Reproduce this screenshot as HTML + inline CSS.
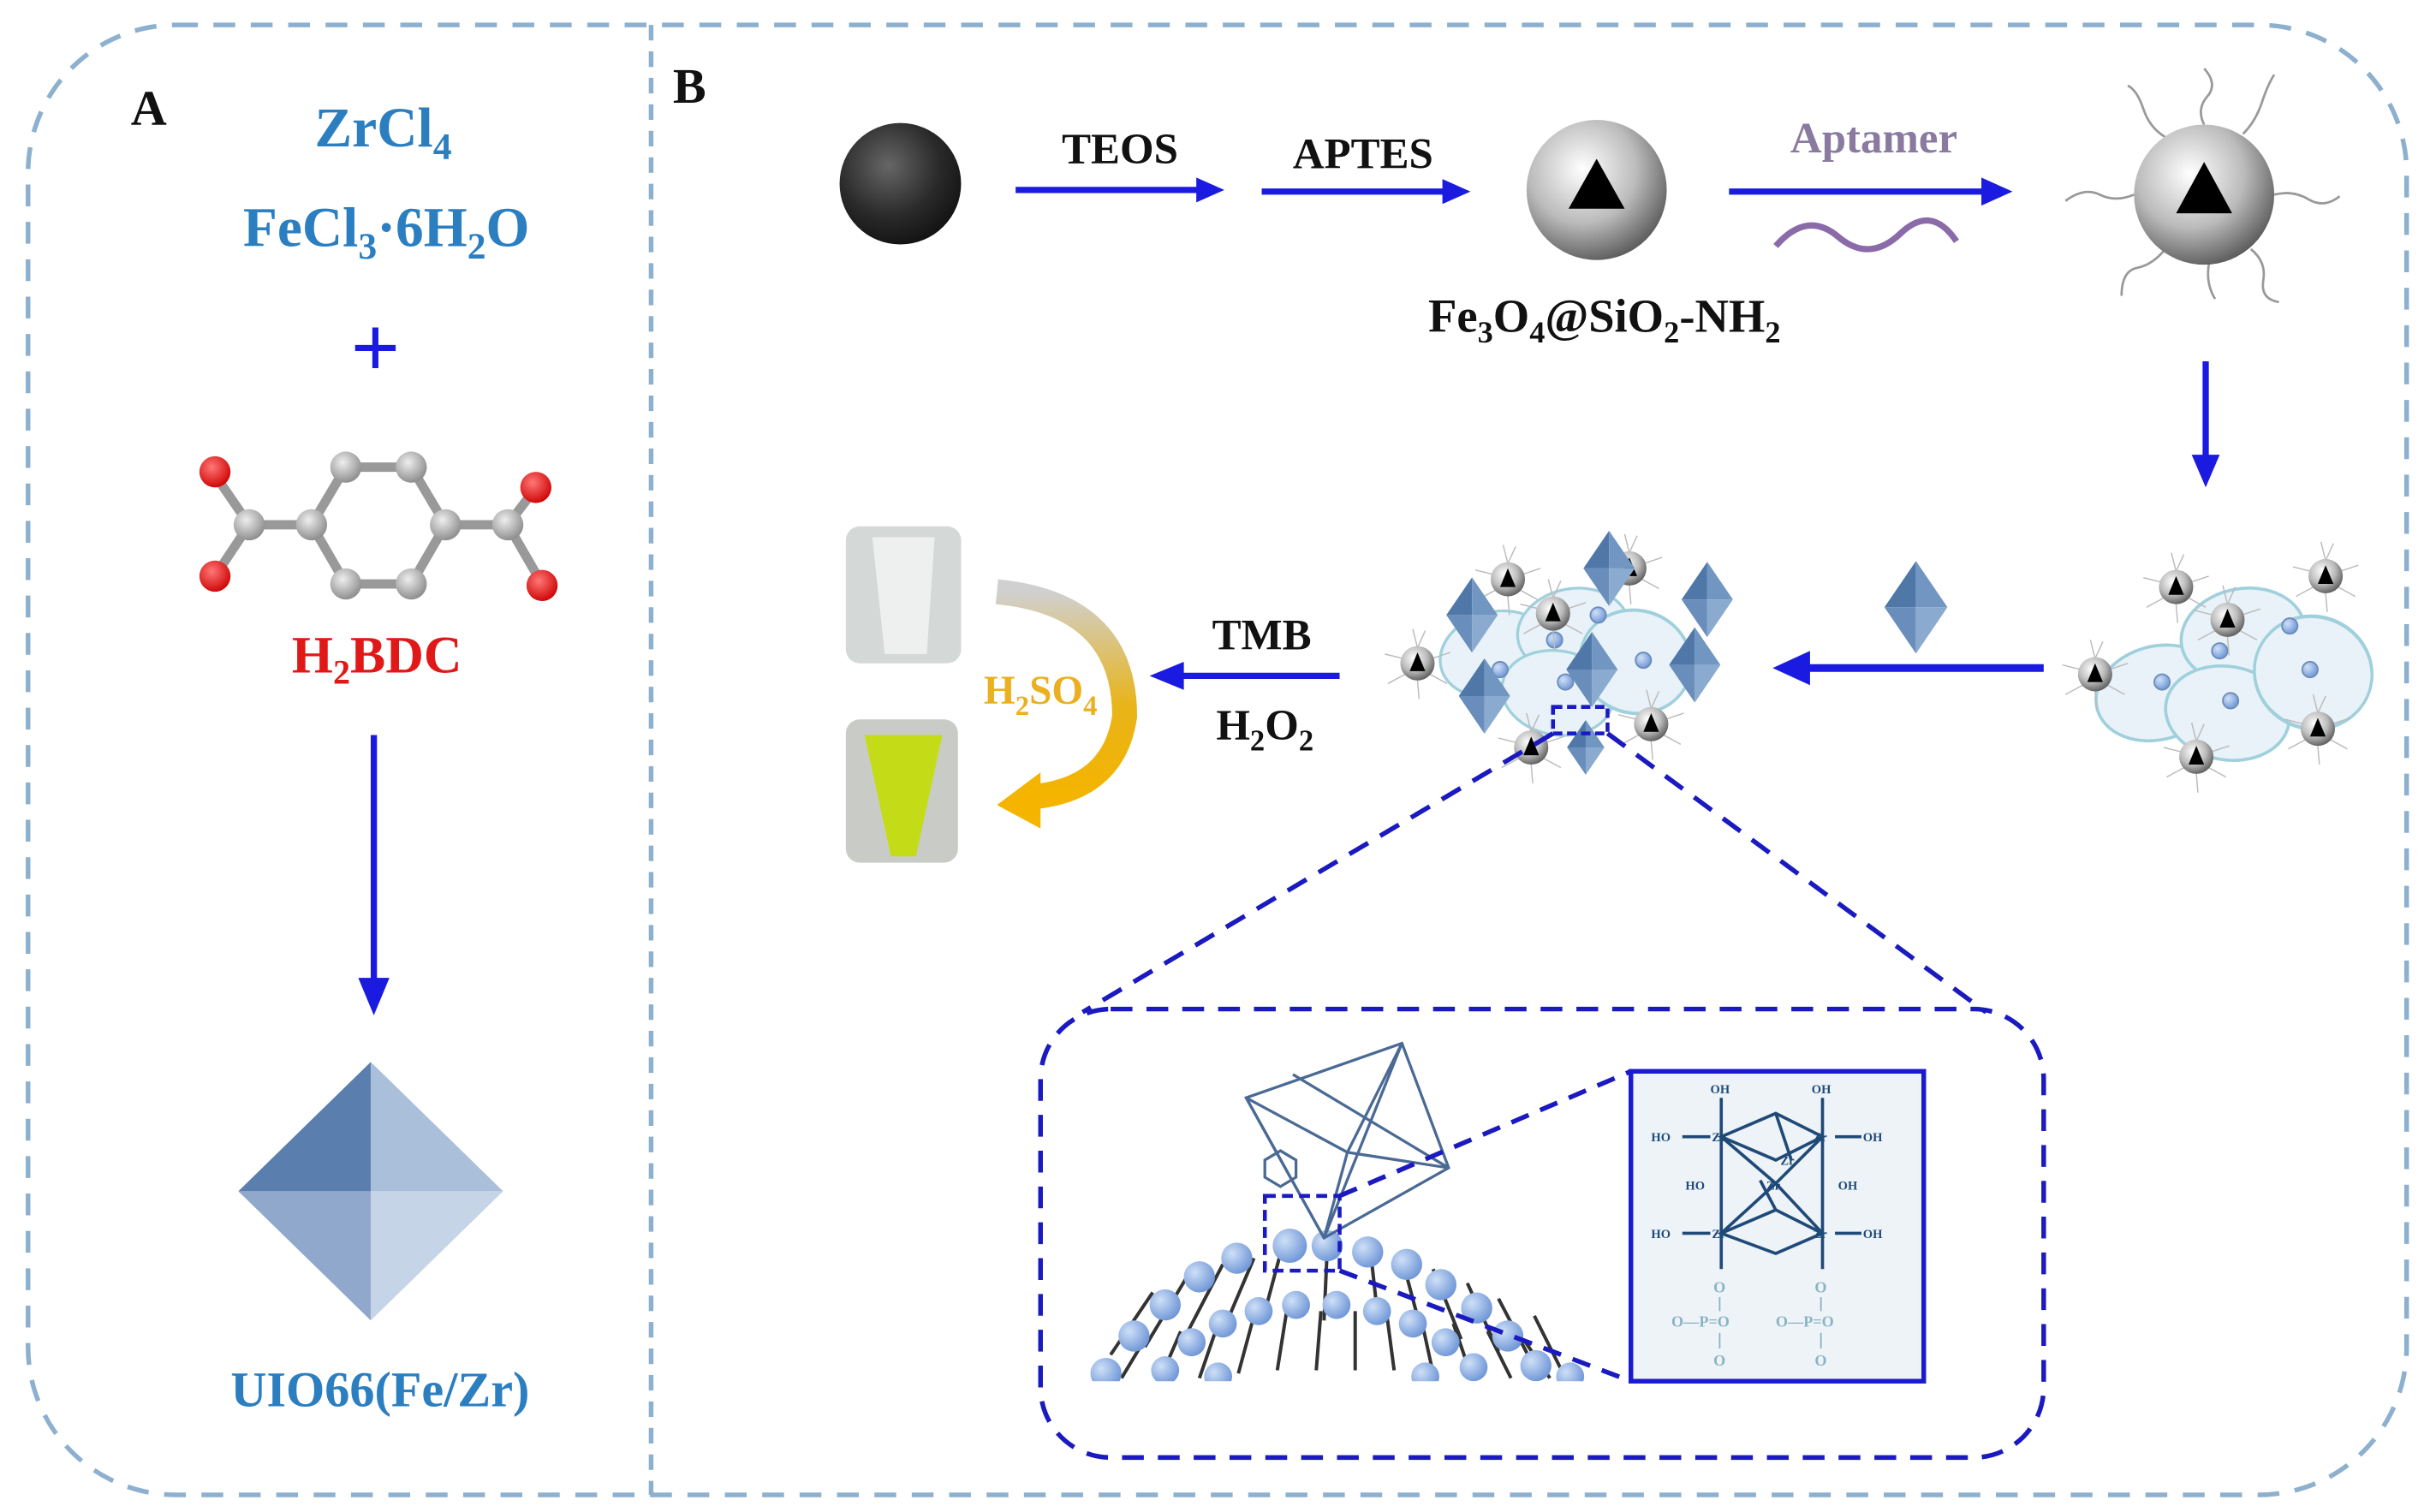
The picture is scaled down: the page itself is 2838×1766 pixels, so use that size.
<!DOCTYPE html>
<html><head><meta charset="utf-8"><style>
html,body{margin:0;padding:0;background:#fff;width:2838px;height:1766px;overflow:hidden}
svg{display:block}
text{font-family:"Liberation Serif",serif;font-weight:bold}
</style></head><body>
<svg width="2838" height="1766" viewBox="0 0 1560 971" preserveAspectRatio="none" xmlns="http://www.w3.org/2000/svg">
<defs>
<radialGradient id="bk" cx="0.4" cy="0.35" r="0.7"><stop offset="0" stop-color="#666"/><stop offset="0.6" stop-color="#2a2a2a"/><stop offset="1" stop-color="#111"/></radialGradient>
<radialGradient id="sv" cx="0.4" cy="0.35" r="0.7"><stop offset="0" stop-color="#fff"/><stop offset="0.55" stop-color="#bbb"/><stop offset="1" stop-color="#555"/></radialGradient>
<radialGradient id="bl" cx="0.35" cy="0.35" r="0.7"><stop offset="0" stop-color="#cfe0f7"/><stop offset="1" stop-color="#6d95d6"/></radialGradient>
<radialGradient id="gr" cx="0.4" cy="0.35" r="0.7"><stop offset="0" stop-color="#eee"/><stop offset="1" stop-color="#888"/></radialGradient>
<radialGradient id="rd" cx="0.4" cy="0.35" r="0.7"><stop offset="0" stop-color="#ff7777"/><stop offset="1" stop-color="#cc0000"/></radialGradient>
<linearGradient id="yarr" x1="0" y1="0" x2="0" y2="1"><stop offset="0" stop-color="#d0d0d0"/><stop offset="0.55" stop-color="#e8b41a"/><stop offset="1" stop-color="#f4b400"/></linearGradient>
<g id="bead"><g stroke="#bbb" stroke-width="0.8" fill="none"><path d="M0-10 l-3-12 M0-10 l5-11 M-9-3 l-12-3 M9-3 l12-4 M-8 7 l-11 6 M8 7 l11 6 M0 11 l1 12"/></g><circle r="11" fill="url(#sv)"/><path d="M0-7 L5 5 L-5 5Z" fill="#000"/></g>
<g id="oct"><path d="M0-22 L-15 0 L0 0Z" fill="#4f78a8"/><path d="M0-22 L15 0 L0 0Z" fill="#7296c2"/><path d="M0 22 L-15 0 L0 0Z" fill="#6a8ebb"/><path d="M0 22 L15 0 L0 0Z" fill="#8aaad0"/></g>
<g id="cell"><ellipse rx="40" ry="30" fill="#e8f2f8" stroke="#9fd0dc" stroke-width="2"/></g>
<g id="nuc"><circle r="5" fill="url(#bl)" stroke="#6b8bb8"/></g>
</defs>

<!-- outer frame -->
<rect x="18" y="16" width="1527" height="944" rx="95" fill="none" stroke="#8eb0cf" stroke-width="3" stroke-dasharray="14 10"/>
<line x1="418" y1="16" x2="418" y2="960" stroke="#8eb0cf" stroke-width="3" stroke-dasharray="10 7"/>

<text x="84" y="80" font-size="32" fill="#111">A</text>
<text x="432" y="66" font-size="32" fill="#111">B</text>

<!-- Panel A -->
<text x="246" y="94" font-size="36" fill="#2b7ec0" text-anchor="middle">ZrCl<tspan font-size="24" dy="8">4</tspan></text>
<text x="248" y="158" font-size="36" fill="#2b7ec0" text-anchor="middle">FeCl<tspan font-size="24" dy="8">3</tspan><tspan dy="-8">·6H</tspan><tspan font-size="24" dy="8">2</tspan><tspan dy="-8">O</tspan></text>
<text x="241" y="242" font-size="56" fill="#1a1ae0" text-anchor="middle">+</text>
<!-- molecule -->
<g stroke="#999" stroke-width="6" fill="none">
<path d="M200 337 L222 300 L264 300 L286 337 L264 375 L222 375 Z"/>
<path d="M200 337 L160 337 M286 337 L326 337 M160 337 L138 305 M160 337 L138 370 M326 337 L345 312 M326 337 L348 375"/>
</g>
<g fill="url(#gr)"><circle cx="200" cy="337" r="10"/><circle cx="222" cy="300" r="10"/><circle cx="264" cy="300" r="10"/><circle cx="286" cy="337" r="10"/><circle cx="264" cy="375" r="10"/><circle cx="222" cy="375" r="10"/><circle cx="160" cy="337" r="10"/><circle cx="326" cy="337" r="10"/></g>
<g fill="url(#rd)"><circle cx="138" cy="303" r="10"/><circle cx="138" cy="370" r="10"/><circle cx="344" cy="313" r="10"/><circle cx="348" cy="376" r="10"/></g>
<text x="242" y="432" font-size="34" fill="#e01818" text-anchor="middle">H<tspan font-size="22" dy="7">2</tspan><tspan dy="-7">BDC</tspan></text>
<line x1="240" y1="472" x2="240" y2="630" stroke="#1a1ae0" stroke-width="4"/>
<path d="M230 628 L250 628 L240 652Z" fill="#1a1ae0"/>
<!-- big octahedron -->
<path d="M238 682 L153 765 L238 765Z" fill="#5a7ead"/><path d="M238 682 L323 765 L238 765Z" fill="#aabfd9"/>
<path d="M238 848 L153 765 L238 765Z" fill="#8fa8cb"/><path d="M238 848 L323 765 L238 765Z" fill="#c6d4e8"/>
<text x="244" y="903" font-size="32" fill="#2b7ec0" text-anchor="middle">UIO66(Fe/Zr)</text>

<!-- Panel B top row -->
<circle cx="578" cy="118" r="39" fill="url(#bk)"/>
<line x1="652" y1="122" x2="770" y2="122" stroke="#1a1ae0" stroke-width="4"/><path d="M768 114 L786 122 L768 130Z" fill="#1a1ae0"/>
<line x1="810" y1="123" x2="928" y2="123" stroke="#1a1ae0" stroke-width="4"/><path d="M926 115 L944 123 L926 131Z" fill="#1a1ae0"/>
<text x="719" y="105" font-size="28" fill="#111" text-anchor="middle">TEOS</text>
<text x="875" y="108" font-size="28" fill="#111" text-anchor="middle">APTES</text>
<circle cx="1025" cy="122" r="45" fill="url(#sv)"/><path d="M1025 102 L1043 134 L1007 134Z" fill="#000"/>
<text x="1030" y="213" font-size="30" fill="#111" text-anchor="middle">Fe<tspan font-size="20" dy="7">3</tspan><tspan dy="-7">O</tspan><tspan font-size="20" dy="7">4</tspan><tspan dy="-7">@SiO</tspan><tspan font-size="20" dy="7">2</tspan><tspan dy="-7">-NH</tspan><tspan font-size="20" dy="7">2</tspan></text>
<line x1="1110" y1="123" x2="1274" y2="123" stroke="#1a1ae0" stroke-width="4"/><path d="M1272 114 L1292 123 L1272 132Z" fill="#1a1ae0"/>
<text x="1203" y="98" font-size="28" fill="#8a7aa0" text-anchor="middle">Aptamer</text>
<path d="M1140 158 Q1160 135 1180 152 T1220 150 T1256 155" stroke="#8a6aa8" stroke-width="4" fill="none"/>
<!-- aptamer sphere -->
<g stroke="#999" stroke-width="1.5" fill="none">
<path d="M1415 80 q-5 -10 2 -18 t-2 -18"/><path d="M1440 86 q8 -8 12 -20 t8 -18"/><path d="M1390 88 q-10 -6 -14 -18 t-10 -15"/>
<path d="M1460 125 q12 -3 22 3 t20 -2"/><path d="M1370 125 q-12 5 -22 0 t-22 4"/><path d="M1445 160 q10 8 8 20 t10 14"/>
<path d="M1390 160 q-8 10 -18 12 t-10 18"/><path d="M1418 170 q-2 12 4 22"/>
</g>
<circle cx="1415" cy="125" r="45" fill="url(#sv)"/><path d="M1415 104 L1433 137 L1397 137Z" fill="#000"/>
<line x1="1416" y1="232" x2="1416" y2="295" stroke="#1a1ae0" stroke-width="4"/><path d="M1407 292 L1425 292 L1416 313Z" fill="#1a1ae0"/>

<!-- right cell cluster -->
<use href="#cell" transform="translate(1385,445) rotate(-15)"/>
<use href="#cell" transform="translate(1440,408) rotate(-10)"/>
<use href="#cell" transform="translate(1430,458) rotate(10)"/>
<use href="#cell" transform="translate(1485,432) rotate(20) scale(0.95,1.2)"/>
<use href="#nuc" x="1388" y="438"/><use href="#nuc" x="1425" y="418"/><use href="#nuc" x="1432" y="450"/><use href="#nuc" x="1470" y="402"/><use href="#nuc" x="1483" y="430"/>
<use href="#bead" x="1397" y="377"/><use href="#bead" x="1430" y="398"/><use href="#bead" x="1493" y="370"/><use href="#bead" x="1345" y="433"/><use href="#bead" x="1410" y="486"/><use href="#bead" x="1488" y="468"/>

<line x1="1312" y1="429" x2="1160" y2="429" stroke="#1a1ae0" stroke-width="5"/><path d="M1162 418 L1138 429 L1162 440Z" fill="#1a1ae0"/>
<use href="#oct" transform="translate(1230,390) scale(1.35)"/>

<!-- left cluster with MOFs -->
<use href="#cell" transform="translate(960,420) rotate(-15) scale(0.9)"/>
<use href="#cell" transform="translate(1010,405) rotate(-10) scale(0.9)"/>
<use href="#cell" transform="translate(1000,445) rotate(10) scale(0.9)"/>
<use href="#cell" transform="translate(1050,425) rotate(15) scale(0.9,1.1)"/>
<use href="#nuc" x="963" y="430"/><use href="#nuc" x="998" y="411"/><use href="#nuc" x="1005" y="438"/><use href="#nuc" x="1055" y="424"/><use href="#nuc" x="1026" y="395"/>
<use href="#bead" x="968" y="372"/><use href="#bead" x="1046" y="365"/><use href="#bead" x="997" y="394"/><use href="#bead" x="910" y="426"/><use href="#bead" x="1060" y="465"/><use href="#bead" x="983" y="480"/>
<use href="#oct" transform="translate(945,395) scale(1.1)"/><use href="#oct" transform="translate(1033,365) scale(1.1)"/>
<use href="#oct" transform="translate(1096,385) scale(1.1)"/><use href="#oct" transform="translate(1022,430) scale(1.1)"/>
<use href="#oct" transform="translate(1088,427) scale(1.1)"/><use href="#oct" transform="translate(953,447) scale(1.1)"/>
<use href="#oct" transform="translate(1018,480) scale(0.8)"/>
<rect x="997" y="454" width="35" height="17" fill="none" stroke="#1a1ac0" stroke-width="2.5" stroke-dasharray="6 3"/>

<!-- TMB arrow -->
<line x1="860" y1="434" x2="758" y2="434" stroke="#1a1ae0" stroke-width="4"/><path d="M760 425 L738 434 L760 443Z" fill="#1a1ae0"/>
<text x="810" y="417" font-size="28" fill="#111" text-anchor="middle">TMB</text>
<text x="812" y="475" font-size="28" fill="#111" text-anchor="middle">H<tspan font-size="19" dy="7">2</tspan><tspan dy="-7">O</tspan><tspan font-size="19" dy="7">2</tspan></text>

<!-- vials -->
<rect x="543" y="338" width="74" height="88" rx="9" fill="#d4d8d6"/>
<path d="M560 345 L600 345 L595 420 L568 420Z" fill="#eef0ef"/>
<rect x="543" y="462" width="72" height="92" rx="9" fill="#c9ccc6"/>
<path d="M555 472 L605 472 L588 550 L572 550Z" fill="#c4dc18"/>
<path d="M640 380 Q722 388 722 460 Q715 508 660 512" stroke="url(#yarr)" stroke-width="16" fill="none"/>
<path d="M668 496 L640 517 L668 532Z" fill="#f4b400"/>
<text x="668" y="452" font-size="26" fill="#eab020" text-anchor="middle">H<tspan font-size="18" dy="7">2</tspan><tspan dy="-7">SO</tspan><tspan font-size="18" dy="7">4</tspan></text>

<!-- zoom lines -->
<line x1="997" y1="471" x2="695" y2="650" stroke="#1a1ac0" stroke-width="3" stroke-dasharray="14 9"/>
<line x1="1032" y1="471" x2="1275" y2="650" stroke="#1a1ac0" stroke-width="3" stroke-dasharray="14 9"/>
<rect x="668" y="648" width="644" height="288" rx="45" fill="none" stroke="#1a1ac0" stroke-width="3" stroke-dasharray="14 9"/>

<!-- membrane -->
<clipPath id="mc"><rect x="680" y="700" width="380" height="187"/></clipPath>
<g clip-path="url(#mc)">
<g stroke="#333" stroke-width="2.5" fill="none">
<path id="lip" d="M0 0 q3 6 0 12 t0 12 t0 12 M6 0 q3 6 0 12 t0 12 t0 12"/>
</g>
<g id="heads"></g>
</g>
<g clip-path="url(#mc)" stroke="#333" stroke-width="2.2" fill="none">
<path d="M720 885 L735 860 M745 885 L758 855 M770 885 L782 850 M795 882 L805 845 M820 880 L826 842 M845 880 L848 842 M870 880 L870 842 M895 880 L890 842 M920 882 L912 845 M945 885 L933 850 M970 885 L955 855 M995 885 L978 860"/>
<path d="M713 870 L740 830 M735 865 L762 820 M760 860 L785 812 M785 855 L805 808 M810 850 L822 805 M850 848 L852 803 M885 850 L880 805 M912 853 L900 808 M938 860 L920 815 M962 868 L942 824 M985 878 L962 834 M1005 885 L985 845"/>
</g>
<g clip-path="url(#mc)" fill="url(#bl)">
<circle cx="710" cy="882" r="10"/><circle cx="728" cy="858" r="10"/><circle cx="748" cy="838" r="10"/><circle cx="770" cy="820" r="10"/><circle cx="794" cy="808" r="10"/><circle cx="828" cy="800" r="11"/><circle cx="852" cy="800" r="10"/><circle cx="878" cy="804" r="10"/><circle cx="903" cy="812" r="10"/><circle cx="925" cy="825" r="10"/><circle cx="948" cy="840" r="10"/><circle cx="968" cy="858" r="10"/><circle cx="986" cy="877" r="10"/>
<circle cx="748" cy="880" r="9"/><circle cx="765" cy="862" r="9"/><circle cx="785" cy="850" r="9"/><circle cx="808" cy="842" r="9"/><circle cx="832" cy="838" r="9"/><circle cx="858" cy="838" r="9"/><circle cx="884" cy="842" r="9"/><circle cx="907" cy="850" r="9"/><circle cx="928" cy="862" r="9"/><circle cx="946" cy="878" r="9"/>
<circle cx="1008" cy="884" r="9"/><circle cx="782" cy="884" r="9"/><circle cx="915" cy="884" r="9"/>
</g>
<!-- wireframe octahedron -->
<g stroke="#4a6a95" stroke-width="1.8" fill="none">
<path d="M800 705 L900 670 L930 750 L850 795 Z"/><path d="M800 705 L865 740 L930 750 M865 740 L850 795 M865 740 L900 670"/>
<path d="M800 705 L850 795 M900 670 L850 795 M830 690 L930 750"/>
<path d="M812 745 l10 -6 l10 6 l0 11 l-10 6 l-10 -6Z"/>
</g>
<rect x="812" y="768" width="48" height="48" fill="none" stroke="#1a1ac0" stroke-width="2.5" stroke-dasharray="7 4"/>
<line x1="860" y1="768" x2="1047" y2="688" stroke="#1a1ac0" stroke-width="3" stroke-dasharray="12 8"/>
<line x1="860" y1="816" x2="1047" y2="887" stroke="#1a1ac0" stroke-width="3" stroke-dasharray="12 8"/>

<!-- Zr cluster box -->
<rect x="1047" y="688" width="188" height="199" fill="#eef3f8" stroke="#1a1ad0" stroke-width="3"/>
<g stroke="#1f4a78" stroke-width="2" fill="none">
<path d="M1105 705 L1105 730 M1170 705 L1170 730 M1080 730 L1098 730 M1178 730 L1195 730 M1080 792 L1098 792 M1178 792 L1195 792"/>
<path d="M1105 730 L1140 715 L1170 730 L1140 745 Z M1105 792 L1140 777 L1170 792 L1140 805 Z"/>
<path d="M1105 730 L1105 792 M1170 730 L1170 792 M1105 730 L1140 760 L1170 792 M1170 730 L1140 760 L1105 792 M1140 715 L1150 745 M1140 777 L1130 758"/>
<path d="M1105 792 L1105 815 M1170 792 L1170 815"/>
</g>
<g font-family="Liberation Sans,sans-serif" font-size="8" fill="#1f4a78" font-weight="bold">
<text x="1098" y="702">OH</text><text x="1163" y="702">OH</text>
<text x="1060" y="733">HO</text><text x="1196" y="733">OH</text>
<text x="1060" y="795">HO</text><text x="1196" y="795">OH</text>
<text x="1082" y="764">HO</text><text x="1180" y="764">OH</text>
<text x="1099" y="733">Zr</text><text x="1164" y="733">Zr</text><text x="1099" y="795">Zr</text><text x="1164" y="795">Zr</text><text x="1134" y="764">Zr</text><text x="1143" y="748">Zr</text>
</g>
<g font-family="Liberation Serif,serif" font-size="10" fill="#8ab4c4" font-weight="normal">
<text x="1100" y="830">O</text><text x="1165" y="830">O</text>
<text x="1073" y="852">O—P=O</text><text x="1140" y="852">O—P=O</text>
<text x="1100" y="877">O</text><text x="1165" y="877">O</text>
</g>
<g stroke="#8ab4c4" stroke-width="1"><path d="M1104 833 L1104 842 M1104 856 L1104 866 M1169 833 L1169 842 M1169 856 L1169 866"/></g>
</svg>
</body></html>
